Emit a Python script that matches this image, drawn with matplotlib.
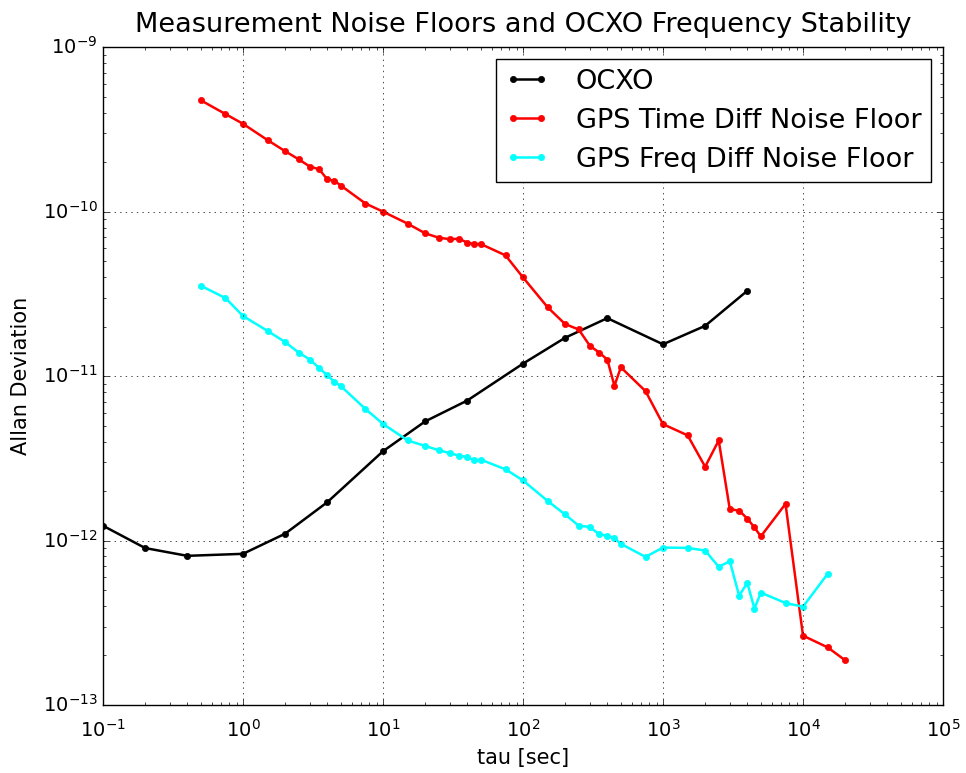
import matplotlib
matplotlib.use('Agg')

import matplotlib.pyplot as plt

# OCXO Allan deviation
ocxo_tau = [0.1, 0.2, 0.4, 1, 2, 4, 10, 20, 40, 100, 200, 400, 1000, 2000, 4000]
ocxo_adev = [1.23e-12, 9.0e-13, 8.07e-13, 8.3e-13, 1.1e-12, 1.71e-12, 3.49e-12,
             5.3e-12, 7.1e-12, 1.19e-11, 1.71e-11, 2.25e-11, 1.56e-11, 2.02e-11, 3.3e-11]

# GPS time-difference noise floor
time_tau = [0.5, 0.75, 1, 1.5, 2, 2.5, 3, 3.5, 4, 4.5, 5, 7.5, 10, 15, 20, 25, 30,
            35, 40, 45, 50, 75, 100, 150, 200, 250, 300, 350, 400, 450, 500, 750,
            1000, 1500, 2000, 2500, 3000, 3500, 4000, 4500, 5000, 7500, 10000,
            15000, 20000]
time_adev = [4.75e-10, 3.92e-10, 3.42e-10, 2.72e-10, 2.33e-10, 2.08e-10, 1.88e-10,
             1.81e-10, 1.57e-10, 1.54e-10, 1.44e-10, 1.12e-10, 1.0e-10, 8.45e-11,
             7.38e-11, 6.94e-11, 6.8e-11, 6.84e-11, 6.47e-11, 6.35e-11, 6.35e-11,
             5.42e-11, 3.98e-11, 2.62e-11, 2.07e-11, 1.92e-11, 1.53e-11, 1.39e-11,
             1.26e-11, 8.73e-12, 1.13e-11, 8.1e-12, 5.1e-12, 4.36e-12, 2.81e-12,
             4.06e-12, 1.55e-12, 1.52e-12, 1.36e-12, 1.2e-12, 1.06e-12, 1.67e-12,
             2.64e-13, 2.24e-13, 1.87e-13]

# GPS frequency-difference noise floor
freq_tau = [0.5, 0.75, 1, 1.5, 2, 2.5, 3, 3.5, 4, 4.5, 5, 7.5, 10, 15, 20, 25, 30,
            35, 40, 45, 50, 75, 100, 150, 200, 250, 300, 350, 400, 450, 500, 750,
            1000, 1500, 2000, 2500, 3000, 3500, 4000, 4500, 5000, 7500, 10000,
            15000]
freq_adev = [3.54e-11, 2.98e-11, 2.32e-11, 1.88e-11, 1.61e-11, 1.39e-11, 1.26e-11,
             1.12e-11, 1.01e-11, 9.23e-12, 8.69e-12, 6.3e-12, 5.12e-12, 4.06e-12,
             3.76e-12, 3.54e-12, 3.4e-12, 3.28e-12, 3.22e-12, 3.07e-12, 3.1e-12,
             2.71e-12, 2.32e-12, 1.74e-12, 1.44e-12, 1.23e-12, 1.21e-12, 1.09e-12,
             1.07e-12, 1.03e-12, 9.55e-13, 7.95e-13, 9.06e-13, 9.02e-13, 8.69e-13,
             6.92e-13, 7.48e-13, 4.62e-13, 5.52e-13, 3.86e-13, 4.82e-13, 4.17e-13,
             3.96e-13, 6.27e-13]

plt.style.use('classic')
plt.rcParams['mathtext.default'] = 'regular'

fig = plt.figure(figsize=(9.66, 7.73), dpi=100, facecolor='white')
ax = fig.add_axes([0.1066, 0.088, 0.8696, 0.851])

ax.loglog(ocxo_tau, ocxo_adev, '.-', color='black', label='OCXO',
          linewidth=1.8, markersize=9)
ax.loglog(time_tau, time_adev, '.-', color='#ff0000', label='GPS Time Diff Noise Floor',
          linewidth=1.8, markersize=9, markeredgecolor='#ff0000')
ax.loglog(freq_tau, freq_adev, '.-', color='#00ffff', label='GPS Freq Diff Noise Floor',
          linewidth=1.8, markersize=9, markeredgecolor='#00ffff')

ax.set_xlim(1e-1, 1e5)
ax.set_ylim(1e-13, 1e-9)
ax.grid(True, which='major')
ax.set_xlabel('tau [sec]', fontsize=15, labelpad=5)
ax.set_ylabel('Allan Deviation', fontsize=15, labelpad=8)
ax.set_title('Measurement Noise Floors and OCXO Frequency Stability',
             fontsize=19.5, pad=11)
ax.tick_params(labelsize=14)
ax.tick_params(axis='x', pad=10)
ax.legend(loc='upper right', fontsize=19.5, numpoints=2, labelspacing=0.48,
          borderaxespad=0.45, borderpad=0.35, handlelength=1.6, handletextpad=1.0)

fig.savefig('out.png', dpi=100, facecolor='white')
